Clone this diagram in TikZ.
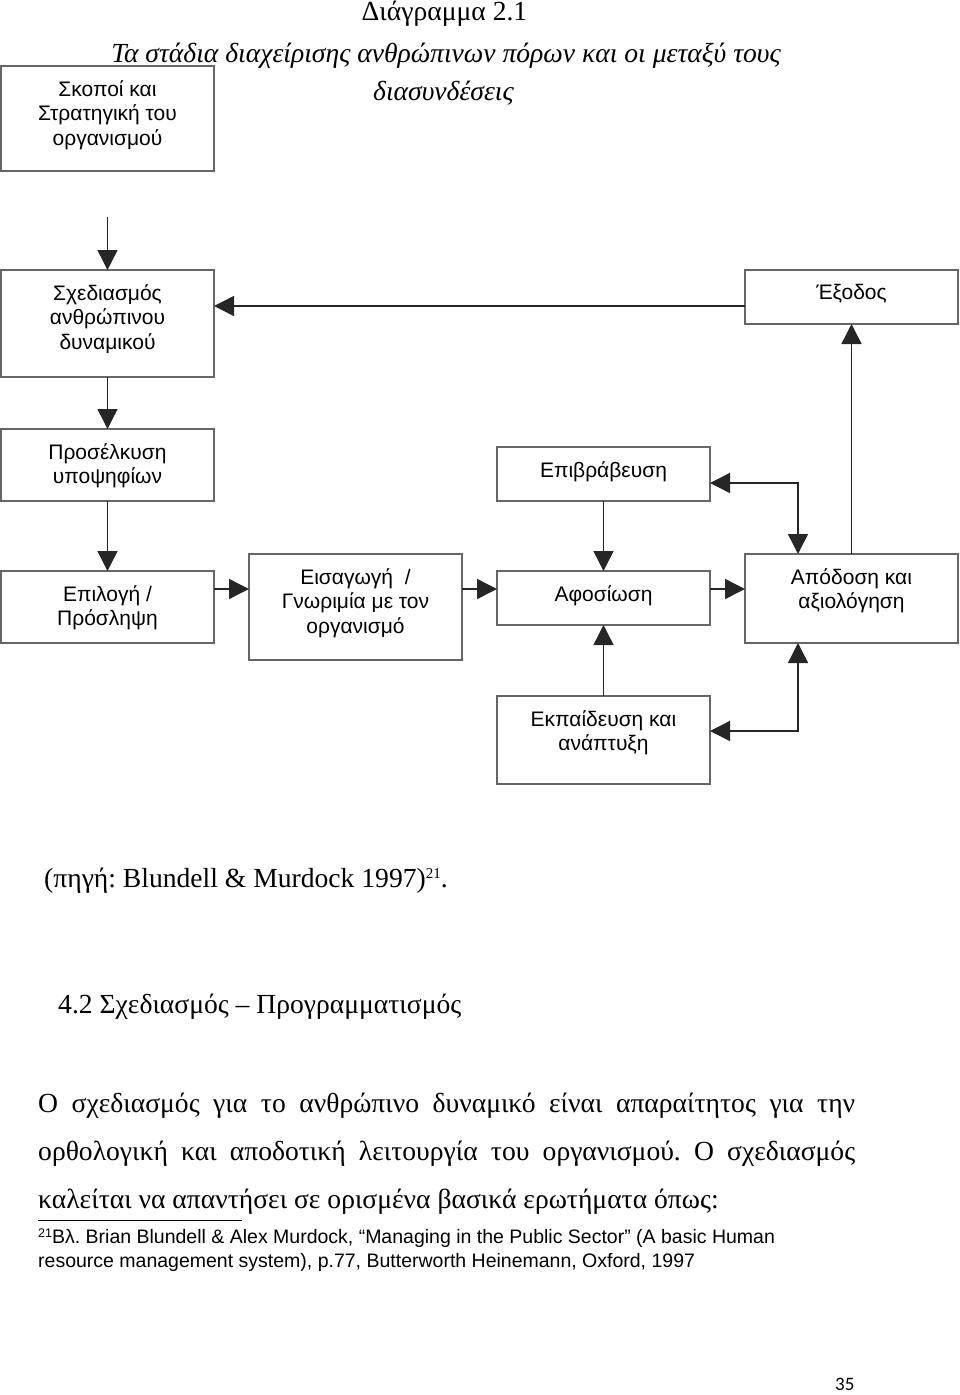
\documentclass[tikz,border=0pt]{standalone}
\usepackage{fontspec}
\setmainfont{Liberation Serif}
\setsansfont{Liberation Sans}
\newfontfamily\pagefont{Carlito}
\usetikzlibrary{arrows.meta,calc}
\frenchspacing
\newcommand{\mysup}[2]{\raisebox{#2}{\fontsize{#1}{#1}\selectfont 21}}
\tikzset{
  box/.style={draw=black!60, line width=1.2pt, minimum width=213pt, inner sep=0pt, outer sep=0pt},
  lbl/.style={anchor=north, align=center, inner sep=0pt, font=\sffamily\fontsize{21}{24.5}\selectfont},
  arr/.style={-{Triangle[length=20pt,width=20pt]}, line width=1.4pt, draw=black!85},
  darr/.style={{Triangle[length=20pt,width=20pt]}-{Triangle[length=20pt,width=20pt]}, line width=1.4pt, draw=black!85},
  serif/.style={inner sep=0pt, font=\fontsize{27.6}{32}\selectfont},
  fnt/.style={inner sep=0pt, anchor=base west, font=\sffamily\fontsize{19.5}{23}\selectfont}
}
\begin{document}
\begin{tikzpicture}[x=1pt,y=-1pt]
\useasboundingbox (0,0) rectangle (960,1395);
% titles
\node[serif, anchor=base] (t1) at (444.5,20) {Διάγραμμα 2.1};
\node[serif, anchor=base] (t2) at (446,62) {\itshape Τα στάδια διαχείρισης ανθρώπινων πόρων και οι μεταξύ τους};
\node[serif, anchor=base] (t3) at (443.5,100) {\itshape διασυνδέσεις};
% boxes
\node[box, minimum height=105pt] (goals) at (107.5,118.5) {};
\node[box, minimum height=107pt] (plan) at (107.5,323.5) {};
\node[box, minimum height=54pt] (exit) at (851.5,297) {};
\node[box, minimum height=72pt] (attr) at (107.5,465) {};
\node[box, minimum height=54pt] (reward) at (603.5,474) {};
\node[box, minimum height=72pt] (select) at (107.5,607) {};
\node[box, minimum height=106pt] (induct) at (355.5,607) {};
\node[box, minimum height=54pt] (commit) at (603.5,598) {};
\node[box, minimum height=89pt] (perf) at (851.5,598.5) {};
\node[box, minimum height=88pt] (train) at (603.5,740) {};
% labels
\node[lbl] (goalsT) at ([yshift=-14pt]goals.north) {Σκοποί και\\Στρατηγική του\\οργανισμού};
\node[lbl] (planT) at ([yshift=-14pt]plan.north) {Σχεδιασμός\\ανθρώπινου\\δυναμικού};
\node[lbl] (exitT) at ([yshift=-14pt]exit.north) {Έξοδος};
\node[lbl] (attrT) at ([yshift=-14pt]attr.north) {Προσέλκυση\\υποψηφίων};
\node[lbl] (rewardT) at ([yshift=-14pt]reward.north) {Επιβράβευση};
\node[lbl] (selectT) at ([yshift=-14pt]select.north) {Επιλογή /\\Πρόσληψη};
\node[lbl] (inductT) at ([yshift=-14pt]induct.north) {Εισαγωγή ~/\\Γνωριμία με τον\\οργανισμό};
\node[lbl] (commitT) at ([yshift=-14pt]commit.north) {Αφοσίωση};
\node[lbl] (perfT) at ([yshift=-14pt]perf.north) {Απόδοση και\\αξιολόγηση};
\node[lbl] (trainT) at ([yshift=-14pt]train.north) {Εκπαίδευση και\\ανάπτυξη};
% connectors
\coordinate (start) at (107.5,217);
\draw[arr] (start) -- (plan.north);
\draw[arr] (plan.south) -- (attr.north);
\draw[arr] (attr.south) -- (select.north);
\draw[arr] ([yshift=18pt]select.east) -- ([yshift=18pt]induct.west);
\draw[arr] ([yshift=18pt]induct.east) -- ([yshift=9pt]commit.west);
\draw[arr] ([yshift=9pt]commit.east) -- ([yshift=9.5pt]perf.west);
\draw[arr] (reward.south) -- (commit.north);
\draw[arr] (train.north) -- (commit.south);
\draw[arr] (perf.north) -- (exit.south);
\draw[arr] ([yshift=-9pt]exit.west) -- ([yshift=-9pt]exit.west -| plan.east);
\draw[darr] ([xshift=-53.5pt]perf.north) |- ([yshift=-9pt]reward.east);
\draw[darr] ([xshift=-53.5pt]perf.south) |- ([yshift=9pt]train.east);
% text below
\node[serif, anchor=base west] (src) at (44,887) {(πηγή: Blundell \& Murdock 1997)\mysup{15}{9pt}.};
\node[serif, anchor=base west] (head) at (58,1013) {4.2 Σχεδιασμός – Προγραμματισμός};
\node[serif, anchor=base west] (b1) at (38,1112) {\makebox[817pt][s]{Ο σχεδιασμός για το ανθρώπινο δυναμικό είναι απαραίτητος για την}};
\node[serif, anchor=base west] (b2) at (38,1160) {\makebox[817pt][s]{ορθολογική και αποδοτική λειτουργία του οργανισμού. Ο σχεδιασμός}};
\node[serif, anchor=base west] (b3) at (38,1208) {καλείται να απαντήσει σε ορισμένα βασικά ερωτήματα όπως:};
\draw[line width=1pt] (38,1220) -- (242,1220);
\node[fnt] (f1) at (38,1243) {\mysup{12.5}{6pt}Βλ. Brian Blundell \& Alex Murdock, “Managing in the Public Sector” (A basic Human};
\node[fnt] (f2) at (38,1267) {resource management system), p.77, Butterworth Heinemann, Oxford, 1997};
\node[inner sep=0pt, anchor=base west, font=\pagefont\fontsize{19}{22}\selectfont] (pg) at (835,1390) {35};
\end{tikzpicture}
\end{document}
